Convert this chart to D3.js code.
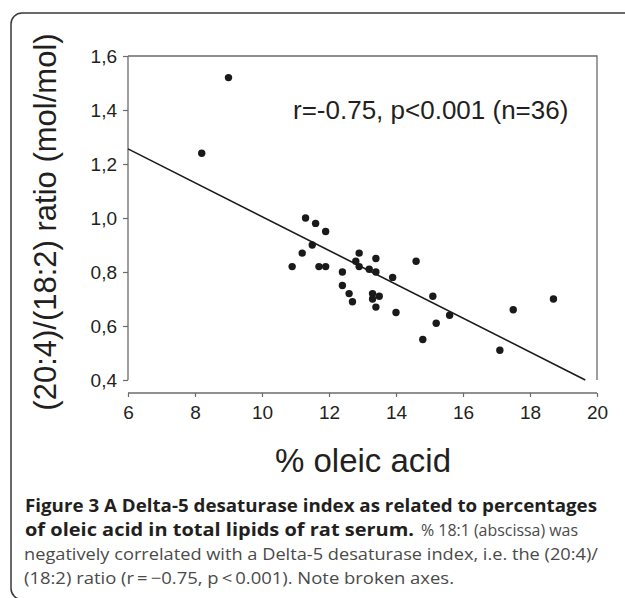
<!DOCTYPE html>
<html>
<head>
<meta charset="utf-8">
<script src="https://cdn.jsdelivr.net/npm/d3@7/dist/d3.min.js"></script>
<style>
  html, body { margin: 0; padding: 0; background: #fff; }
  svg { display: block; }
</style>
</head>
<body>
<svg id="chart" width="625" height="598"></svg>
<script>
// ---- data ----
const oleicPct = [9.0, 8.2, 11.3, 11.6, 11.9, 11.5, 11.2, 10.9, 11.7, 11.9,
                  12.9, 12.8, 12.9, 13.4, 13.2, 13.4, 12.4, 13.9, 14.6, 12.4,
                  12.6, 13.3, 13.5, 12.7, 13.3, 13.4, 14.0, 14.8, 15.1, 15.6,
                  15.2, 17.1, 17.5, 18.7];
const ratio    = [1.52, 1.24, 1.00, 0.98, 0.95, 0.90, 0.87, 0.82, 0.82, 0.82,
                  0.87, 0.84, 0.82, 0.85, 0.81, 0.80, 0.80, 0.78, 0.84, 0.75,
                  0.72, 0.72, 0.71, 0.69, 0.70, 0.67, 0.65, 0.55, 0.71, 0.64,
                  0.61, 0.51, 0.66, 0.70];
const fitX = [6, 19.65];
const fitY = [1.256, 0.40];
const xTicks = [6, 8, 10, 12, 14, 16, 18, 20];
const yTicks = [0.4, 0.6, 0.8, 1.0, 1.2, 1.4, 1.6];
const xTitle = "% oleic acid";
const yTitle = "(20:4)/(18:2) ratio (mol/mol)";
const annotation = "r=-0.75, p<0.001 (n=36)";
const captionBold1 = "Figure 3 A Delta-5 desaturase index as related to percentages";
const captionBold2 = "of oleic acid in total lipids of rat serum.";
const captionReg2 = "% 18:1 (abscissa) was";
const captionReg3 = "negatively correlated with a Delta-5 desaturase index, i.e. the (20:4)/";
const captionReg4 = "(18:2) ratio (r\u2009=\u2009\u22120.75, p\u2009<\u20090.001). Note broken axes.";

// ---- layout ----
const svg = d3.select("#chart");
const plotL = 128, plotR = 597, plotT = 56, plotB = 380, xAxisY = 393;
const x = d3.scaleLinear().domain([6, 20]).range([plotL, plotR]);
const y = d3.scaleLinear().domain([0.4, 1.6]).range([plotB, plotT]);
const axisColor = "#6b6b6b";
const textColor = "#231f20";
const fontPlot = "'Liberation Sans', Arial, Helvetica, sans-serif";

// outer frame
svg.append("rect")
  .attr("x", 11).attr("y", 13).attr("width", 700).attr("height", 586.5)
  .attr("rx", 11).attr("ry", 11)
  .attr("fill", "none").attr("stroke", "#3a3a3a").attr("stroke-width", 1.5);

// top & right frame of plot
svg.append("path")
  .attr("d", `M${plotL},${plotT}H${plotR}V${plotB}`)
  .attr("fill", "none").attr("stroke", axisColor).attr("stroke-width", 1.3);

// y axis
const yAxis = d3.axisLeft(y).tickValues(yTicks).tickSize(5).tickPadding(6)
  .tickFormat(d => d3.format(".1f")(d).replace(".", ","));
const gy = svg.append("g").attr("transform", `translate(${plotL},0)`).call(yAxis);
gy.select(".domain").attr("stroke", axisColor).attr("stroke-width", 1.3)
  .attr("d", `M0,${plotT}V${plotB}`);
gy.selectAll(".tick line").attr("stroke", axisColor).attr("stroke-width", 1.2);
gy.selectAll(".tick text").attr("fill", textColor)
  .style("font-family", fontPlot).style("font-size", "19px");

// x axis (broken: placed below)
const xAxis = d3.axisBottom(x).tickValues(xTicks).tickSize(4).tickPadding(9)
  .tickFormat(d3.format("d"));
const gx = svg.append("g").attr("transform", `translate(0,${xAxisY})`).call(xAxis);
gx.select(".domain").attr("stroke", axisColor).attr("stroke-width", 1.3)
  .attr("d", `M${plotL},0H${plotR}`);
gx.selectAll(".tick line").attr("stroke", axisColor).attr("stroke-width", 1.2);
gx.selectAll(".tick text").attr("fill", textColor)
  .style("font-family", fontPlot).style("font-size", "19px");

// regression line
svg.append("line")
  .attr("x1", x(fitX[0])).attr("y1", y(fitY[0]))
  .attr("x2", x(fitX[1])).attr("y2", y(fitY[1]))
  .attr("stroke", "#1a1a1a").attr("stroke-width", 1.6);

// points
svg.append("g").selectAll("circle")
  .data(oleicPct.map((v, i) => [v, ratio[i]]))
  .join("circle")
  .attr("cx", d => x(d[0])).attr("cy", d => y(d[1]))
  .attr("r", 3.7).attr("fill", "#1a1a1a");

// annotation
svg.append("text")
  .attr("x", 293).attr("y", 119)
  .attr("fill", textColor)
  .style("font-family", fontPlot).style("font-size", "26px")
  .text(annotation);

// axis titles
svg.append("text")
  .attr("x", 363).attr("y", 472).attr("text-anchor", "middle")
  .attr("fill", textColor)
  .style("font-family", fontPlot).style("font-size", "33px")
  .text(xTitle);

svg.append("text")
  .attr("transform", "translate(56,222) rotate(-90)")
  .attr("text-anchor", "middle")
  .attr("fill", textColor)
  .style("font-family", fontPlot).style("font-size", "31px")
  .text(yTitle);

// caption
const capFont = "'Open Sans', 'Noto Sans', sans-serif";
function cap(txt, x0, yb, len, bold) {
  svg.append("text")
    .attr("x", x0).attr("y", yb)
    .attr("textLength", len).attr("lengthAdjust", "spacingAndGlyphs")
    .attr("fill", bold ? "#231f20" : "#4a4a4a")
    .style("font-family", capFont)
    .style("font-size", "17px")
    .style("font-weight", bold ? "700" : "400")
    .text(txt);
}
cap(captionBold1, 25, 512, 572, true);
cap(captionBold2, 25, 536, 389, true);
cap(captionReg2, 421, 536, 157, false);
cap(captionReg3, 24, 560, 574, false);
cap(captionReg4, 24, 584, 430, false);
</script>
</body>
</html>
